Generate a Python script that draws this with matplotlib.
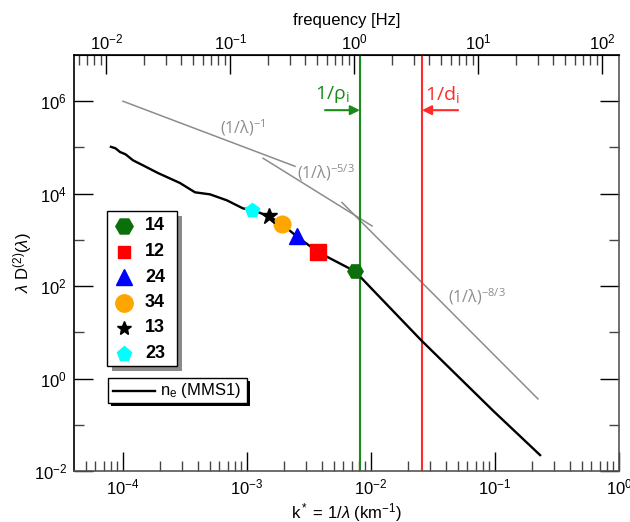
import numpy as np
import matplotlib.pyplot as plt
from matplotlib.ticker import FixedLocator, LogLocator, NullFormatter
from matplotlib.transforms import Affine2D
from matplotlib.lines import Line2D
from matplotlib.patches import Rectangle

plt.rcParams['font.family'] = ['Liberation Sans', 'DejaVu Sans']
plt.rcParams['mathtext.fontset'] = 'custom'
plt.rcParams['mathtext.rm'] = 'Liberation Sans'
plt.rcParams['mathtext.it'] = 'Liberation Sans:italic'

# structure function of n_e (MMS1)
k_curve = [8.0e-5, 8.7e-5, 9.46e-5, 1.05e-4, 1.205e-4, 1.449e-4, 1.914e-4,
           2.483e-4, 2.884e-4, 3.81e-4, 5.04e-4, 6.90e-4, 9.29e-4, 1.09e-3,
           1.51e-3, 1.90e-3, 2.52e-3, 3.76e-3, 7.43e-3, 2.53e-2, 9.7e-2, 0.231]
d_curve = [1.03e5, 9.6e4, 7.98e4, 7.1e4, 5.27e4, 4.11e4, 2.80e4,
           2.04e4, 1.70e4, 1.07e4, 9.66e3, 7.16e3, 4.80e3, 4.50e3,
           3.22e3, 2.23e3, 1.19e3, 541, 209, 6.81, 0.199, 0.0221]

# spacecraft pairs
pair_labels = ['14', '12', '24', '34', '13', '23']
pair_k = [7.43e-3, 3.76e-3, 2.52e-3, 1.90e-3, 1.51e-3, 1.09e-3]
pair_d = [209, 541, 1.19e3, 2.23e3, 3.22e3, 4.50e3]
pair_marker = ['H', 's', '^', 'o', '*', 'p']
pair_color = ['#0b700b', '#ff0000', '#0000ff', '#ffa500', 'black', '#00ffff']
pair_size = [11, 12, 11, 12, 12, 10.5]
legend_size = [12.5, 8, 11, 12.5, 10.5, 11]

# reference power laws (end points)
ref_k = [[1.0e-4, 2.44e-3], [1.35e-3, 1.02e-2], [5.83e-3, 0.222]]
ref_d = [[1.0e6, 3.91e4], [5.83e4, 2.0e3], [6.47e3, 0.363]]
ref_text = [r'$\mathregular{(1/λ)^{-1}}$', r'$\mathregular{(1/λ)^{-5/3}}$',
            r'$\mathregular{(1/λ)^{-8/3}}$']
ref_text_pos = [(9.3e-4, 2.7e5), (4.35e-3, 2.9e4), (7.2e-2, 59)]

k_rho = 8.14e-3
k_di = 0.0258
V = 136.0  # km/s, f = V k

fig = plt.figure(figsize=(6.3, 5.22), dpi=100)
ax = fig.add_axes([74 / 630, 51 / 522, 545 / 630, 416 / 522])
ax.set_xscale('log')
ax.set_yscale('log')
ax.set_xlim(4.03e-5, 1)
ax.set_ylim(1e-2, 1e7)

ax.plot(k_curve, d_curve, color='black', lw=1.7, zorder=3)
for kk, dd in zip(ref_k, ref_d):
    ax.plot(kk, dd, color='#8c8c8c', lw=1.1, zorder=2)
for txt, (tx, ty) in zip(ref_text, ref_text_pos):
    ax.text(tx, ty, txt, color='#8c8c8c', fontsize=11.5, family='Open Sans',
            ha='center', va='center')

ax.axvline(k_rho, color='#1a8a1a', lw=1.5, zorder=2)
ax.axvline(k_di, color='#ff2a2a', lw=1.5, zorder=2)
ax.annotate('', xy=(k_rho, 6.4e5), xytext=(4.26e-3, 6.4e5),
            arrowprops=dict(arrowstyle='-|>', color='#1a8a1a', lw=1.5,
                            mutation_scale=14, shrinkA=0, shrinkB=0))
ax.annotate('', xy=(k_di, 6.4e5), xytext=(0.0504, 6.4e5),
            arrowprops=dict(arrowstyle='-|>', color='#ff2a2a', lw=1.5,
                            mutation_scale=14, shrinkA=0, shrinkB=0))
ax.text(4.86e-3, 1.43e6, r'$\mathregular{1/ρ_i}$', color='#1a8a1a',
        fontsize=14, family='Open Sans', ha='center', va='center')
ax.text(0.0374, 1.43e6, r'$\mathregular{1/d_i}$', color='#ff2a2a',
        fontsize=14, family='Open Sans', ha='center', va='center')

for k0, d0, m, c, s in zip(pair_k, pair_d, pair_marker, pair_color, pair_size):
    ax.plot(k0, d0, marker=m, color=c, ms=s, mec=c, ls='none', zorder=4)

# axes and ticks
ax.yaxis.set_major_locator(FixedLocator([1e-2, 1, 1e2, 1e4, 1e6]))
ax.yaxis.set_minor_locator(FixedLocator([1e-1, 1e1, 1e3, 1e5]))
ax.yaxis.set_minor_formatter(NullFormatter())
ax.xaxis.set_major_locator(LogLocator(base=10, numticks=12))
ax.xaxis.set_minor_locator(LogLocator(base=10, subs=np.arange(2, 10), numticks=12))
ax.xaxis.set_minor_formatter(NullFormatter())
ax.tick_params(which='major', direction='in', length=14, width=1,
               top=False, right=True, labelsize=12, pad=5)
ax.tick_params(which='minor', direction='in', length=7, width=1,
               top=False, right=True, color='#444444')
for side in ['left', 'top']:
    ax.spines[side].set_color('black')
for side in ['right', 'bottom']:
    ax.spines[side].set_color('#555555')
for sp in ax.spines.values():
    sp.set_linewidth(1.2)

f_lo, f_hi = 4.03e-5 * V, 1 * V
f_minor = [s * 10.0 ** e for e in range(-3, 3) for s in range(2, 10)]
f_minor = [f for f in f_minor if f_lo < f < f_hi]
sec = ax.secondary_xaxis('top', functions=(lambda k: k * V, lambda f: f / V))
sec.xaxis.set_major_locator(FixedLocator([1e-2, 1e-1, 1, 10, 100]))
sec.xaxis.set_minor_locator(FixedLocator(f_minor))
sec.xaxis.set_minor_formatter(NullFormatter())
sec.tick_params(which='major', direction='in', length=14, width=1, labelsize=12, pad=2)
sec.tick_params(which='minor', direction='in', length=7, width=1, color='#444444')
sec.set_xlabel('frequency [Hz]', fontsize=12, labelpad=5)

ax.set_xlabel(r'k$^*$ = 1/$\lambda$ (km$^{-1}$)', fontsize=12, labelpad=2)
ax.set_ylabel(r'$\lambda$ D$^{(2)}$($\lambda$)', fontsize=12)
ax.yaxis.set_label_coords(-0.073, 0.5)

# legends drawn in pixel coordinates (origin top-left)
px = Affine2D().scale(1 / 630, -1 / 522).translate(0, 1) + fig.transFigure

fig.add_artist(Rectangle((112, 216), 70, 155, transform=px, facecolor='#8a8a8a',
                         edgecolor='none', zorder=5))
fig.add_artist(Rectangle((107, 211), 70, 155, transform=px, facecolor='white',
                         edgecolor='black', lw=1.0, zorder=6))
rows = [226, 251.5, 277, 302.5, 328, 353.5]
for y0, lab, m, c, s in zip(rows, pair_labels, pair_marker, pair_color, legend_size):
    fig.add_artist(Line2D([124], [y0], transform=px, marker=m, color=c, mec=c,
                          ms=s, ls='none', zorder=7))
    fig.text(145 / 630, 1 - y0 / 522, lab, fontsize=13, fontweight='bold',
             ha='left', va='center', zorder=7)

fig.add_artist(Rectangle((111, 381), 139, 25, transform=px, facecolor='black',
                         edgecolor='none', zorder=5))
fig.add_artist(Rectangle((108, 378), 139, 25, transform=px, facecolor='white',
                         edgecolor='black', lw=1.0, zorder=6))
fig.add_artist(Line2D([113, 155], [391, 391], transform=px, color='black', lw=1.7,
                      zorder=7))
fig.text(160 / 630, 1 - 391 / 522, r'$\mathregular{n_e}$ (MMS1)', fontsize=12,
         ha='left', va='center', zorder=7)

fig.savefig('out.png', dpi=100)
